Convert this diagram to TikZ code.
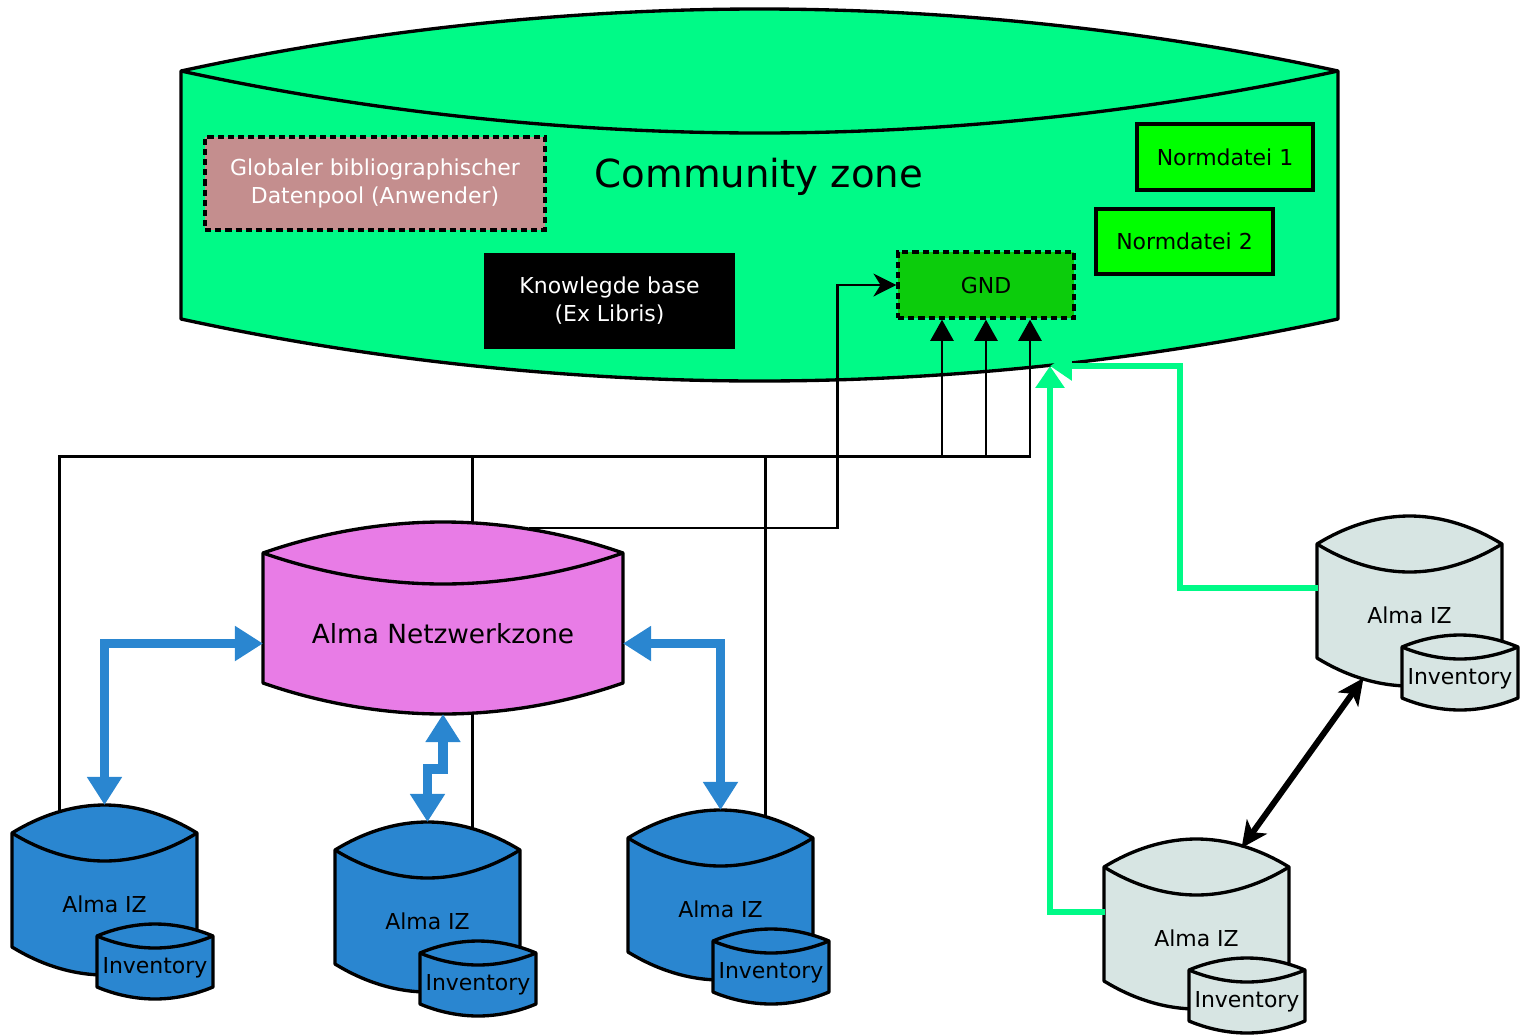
\documentclass[tikz,border=0pt]{standalone}
\usepackage{fontspec}
\setmainfont{DejaVu Sans}
\usepackage{tikz}
\usetikzlibrary{arrows.meta,calc,backgrounds}
\definecolor{czgruen}{RGB}{0,250,135}
\definecolor{poolrot}{RGB}{196,142,142}
\definecolor{ndgruen}{RGB}{0,255,0}
\definecolor{gndgruen}{RGB}{12,204,12}
\definecolor{nzlila}{RGB}{232,124,230}
\definecolor{izblau}{RGB}{42,134,208}
\definecolor{izgrau}{RGB}{215,229,227}
\tikzset{
	zylrand/.style={draw=black, line width=1.9pt, line join=round},
	kasten/.style={rectangle, draw=black, line width=1.9pt, inner sep=0pt, font=\fontsize{12.5}{16}\selectfont},
	gestrichelt/.style={dash pattern=on 3.5pt off 2.3pt},
	verb/.style={black, line width=1.6pt},
	blaupfeil/.style={izblau, line width=5.4pt, {Triangle[width=19pt,length=16pt]}-{Triangle[width=19pt,length=16pt]}},
	gruenpfeil/.style={czgruen, line width=3.8pt, -{Triangle[width=16pt,length=12.5pt]}}
}
% fill, name, x, y, width, height, arc, text
\newcommand{\zylinder}[8]{%
	\draw[zylrand, fill=#1] (#3,#4) parabola bend (#3+#5/2,#4-#7) (#3+#5,#4) -- (#3+#5,#4+#6) parabola bend (#3+#5/2,#4+#6+#7) (#3,#4+#6) -- cycle;
	\draw[zylrand] (#3,#4) parabola bend (#3+#5/2,#4+#7) (#3+#5,#4);
	\coordinate (#2-top) at (#3+#5/2,#4-#7);
	\coordinate (#2-bot) at (#3+#5/2,#4+#6+#7);
	\node[font=\fontsize{12.5}{15}\selectfont] (#2) at (#3+#5/2,#4+#6/2+#7/2) {#8};
}
% Alma IZ with inventory: name, fill, x, y
\newcommand{\izbank}[4]{%
	\zylinder{#2}{#1}{#3}{#4}{185}{114}{28}{Alma IZ}
	\zylinder{#2}{#1-inv}{#3+85}{#4+103}{116}{51}{12}{Inventory}
}

\begin{document}
\begin{tikzpicture}[x=0.02cm, y=-0.02cm]
	\useasboundingbox (0,0) rectangle (1522,1035);
	
	% community zone
	\begin{scope}[on background layer]
		\draw[zylrand, fill=czgruen] (181,71) parabola bend (759.5,9) (1338,71) -- (1338,319) parabola bend (759.5,381) (181,319) -- cycle;
		\draw[zylrand] (181,71) parabola bend (759.5,133) (1338,71);
	\end{scope}
	\node[font=\fontsize{22}{26}\selectfont] (czlabel) at (759,177) {Community zone};
	
	\node[kasten, gestrichelt, fill=poolrot, text=white, align=center, minimum width=6.8cm, minimum height=1.86cm] (pool) at (375,183.5) {Globaler bibliographischer\\Datenpool (Anwender)};
	\node[kasten, draw=none, fill=black, text=white, align=center, minimum width=5.02cm, minimum height=1.92cm] (kb) at (609.5,301) {Knowlegde base\\(Ex Libris)};
	\node[kasten, fill=ndgruen, minimum width=3.52cm, minimum height=1.32cm] (nd1) at (1225,157) {Normdatei 1};
	\node[kasten, fill=ndgruen, minimum width=3.54cm, minimum height=1.3cm] (nd2) at (1184.5,241.5) {Normdatei 2};
	\node[kasten, gestrichelt, fill=gndgruen, minimum width=3.52cm, minimum height=1.32cm] (gnd) at (986,285) {GND};
	
	% Netzwerkzone und IZ
	\zylinder{nzlila}{netz}{263}{553}{360}{130}{31}{\fontsize{15}{18}\selectfont Alma Netzwerkzone}
	\izbank{iz1}{izblau}{12}{833}
	\izbank{iz2}{izblau}{335}{850}
	\izbank{iz3}{izblau}{628}{838}
	\izbank{iz4}{izgrau}{1317}{544}
	\izbank{iz5}{izgrau}{1104}{867}
	
	% Verbindungen zur GND
	\begin{scope}[on background layer]
		\draw[verb,-{Triangle[width=13pt,length=12pt]}] ($(iz1)+(-45,0)$) |- ($(gnd.south)+(44,137)$) -- ($(gnd.south)+(44,0)$);
		\draw[verb,-{Triangle[width=13pt,length=12pt]}] ($(iz2)+(45,0)$) |- ($(gnd.south)+(0,137)$) -- (gnd.south);
		\draw[verb,-{Triangle[width=13pt,length=12pt]}] ($(iz3)+(45,0)$) |- ($(gnd.south)+(-44,137)$) -- ($(gnd.south)+(-44,0)$);
		\draw[verb,-{Stealth[width=13pt,length=13pt,inset=4pt]}] ($(netz)+(87,0)$) |- ($(gnd.west)+(-59,243)$) |- (gnd.west);
	\end{scope}
	
	\draw[blaupfeil] (iz1-top) |- ($(netz)+(-180,10)$);
	\draw[blaupfeil] (iz3-top) |- ($(netz)+(180,10)$);
	\draw[blaupfeil] (netz-bot) -- ++(0,55) -| (iz2-top);
	
	\coordinate (czunten) at (1050,366);
	\draw[gruenpfeil] ($(iz5)+(-92,-26)$) -| (czunten);
	\draw[gruenpfeil] ($(iz4)+(-92,-27)$) -| ($(czunten)+(130,0)$) -- (czunten);
	
	\draw[black, line width=3.4pt, {Stealth[width=14pt,length=15pt,inset=4pt]}-{Stealth[width=14pt,length=15pt,inset=4pt]}] ($(iz4)+(-46,63)$) -- ($(iz5)+(45,-90)$);
\end{tikzpicture}
\end{document}
